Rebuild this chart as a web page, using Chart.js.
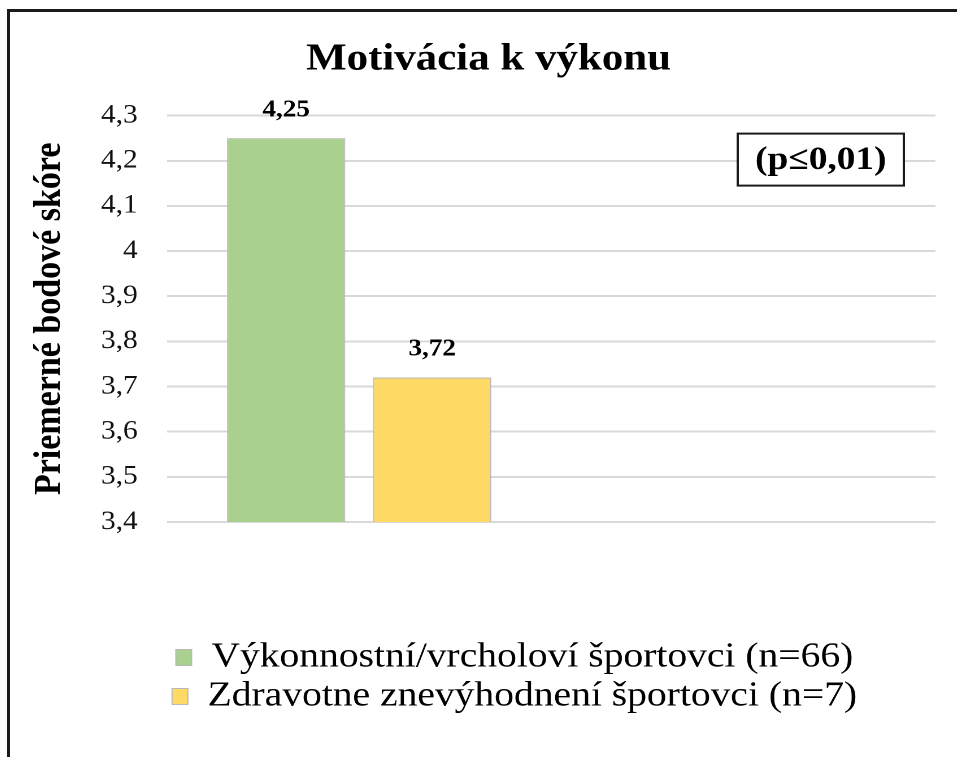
<!DOCTYPE html>
<html>
<head>
<meta charset="utf-8">
<script src="https://cdn.jsdelivr.net/npm/chart.js@4"></script>
<style>
  html, body { margin: 0; padding: 0; background: #fff; overflow: hidden; }
  #frame {
    position: absolute; left: 7px; top: 9px;
    width: 1000px; height: 800px;
    border-left: 3px solid #1a1a1a; border-top: 3px solid #1a1a1a;
  }
  /* the source picture is a little stretched sideways */
  #wrap {
    position: absolute; left: 0; top: 0; width: 838px; height: 745px;
    transform: scaleX(1.13); transform-origin: 0 0;
  }
</style>
</head>
<body>
<div id="frame"><div id="wrap"><canvas id="myChartBar"></canvas></div></div>
<script>
// data
var chartTitle = 'Motivácia k výkonu';
var axisTitle = 'Priemerné bodové skóre';
var categories = ['Motivácia k výkonu', ''];
var seriesNames = ['Výkonnostní/vrcholoví športovci (n=66)', 'Zdravotne znevýhodnení športovci (n=7)'];
var seriesValues = [4.25, 3.72];
var seriesColors = ['#a9d08e', '#fed966'];
var yTicks = [3.4, 3.5, 3.6, 3.7, 3.8, 3.9, 4.0, 4.1, 4.2, 4.3];
var pNote = '(p≤0,01)';

function comma(v) {
  return String(Math.round(v * 100) / 100).replace('.', ',');
}

var serif = 'Liberation Serif';

var valueLabels = {
  id: 'valueLabels',
  afterDatasetsDraw: function (chart) {
    var ctx = chart.ctx;
    ctx.save();
    ctx.font = 'bold 24px "' + serif + '"';
    ctx.fillStyle = '#000';
    ctx.textAlign = 'center';
    ctx.textBaseline = 'middle';
    chart.data.datasets.forEach(function (ds, i) {
      chart.getDatasetMeta(i).data.forEach(function (bar, j) {
        if (ds.data[j] == null) return;
        ctx.fillText(comma(ds.data[j]), bar.x, bar.y - 28);
      });
    });
    ctx.restore();
  }
};

var pBox = {
  id: 'pBox',
  afterDraw: function (chart) {
    var a = chart.chartArea;
    var ctx = chart.ctx;
    var w = 147, h = 52;
    var x = a.right - 28 - w, y = a.top + 18;
    ctx.save();
    ctx.fillStyle = '#fff';
    ctx.fillRect(x, y, w, h);
    ctx.lineWidth = 2;
    ctx.strokeStyle = '#1a1a1a';
    ctx.strokeRect(x, y, w, h);
    ctx.font = 'bold 33px "' + serif + '"';
    ctx.fillStyle = '#000';
    ctx.textAlign = 'center';
    ctx.textBaseline = 'middle';
    ctx.fillText(pNote, x + w / 2, y + h / 2 + 1);
    ctx.restore();
  }
};

var shiftBlocks = {
  id: 'shiftBlocks',
  afterLayout: function (chart) {
    chart.legend.left += 35;
    chart.legend.right += 35;
    chart.titleBlock.left += 12;
    chart.titleBlock.right += 12;
  }
};

var datasets = seriesNames.map(function (name, i) {
  var d = categories.map(function () { return null; });
  d[0] = seriesValues[i];
  return {
    label: name,
    data: d,
    backgroundColor: seriesColors[i],
    borderColor: '#b8b8b8',
    borderWidth: 1
  };
});

new Chart(document.getElementById('myChartBar'), {
  type: 'bar',
  data: { labels: categories, datasets: datasets },
  options: {
    responsive: true,
    maintainAspectRatio: false,
    animation: false,
    devicePixelRatio: 2,
    categoryPercentage: 0.76,
    barPercentage: 0.81,
    layout: { padding: { left: 4, right: 19, top: 0, bottom: 33 } },
    plugins: {
      title: {
        display: true,
        text: chartTitle,
        color: '#000',
        font: { family: serif, size: 38, weight: 'bold' },
        padding: { top: 25, bottom: 33 }
      },
      legend: {
        position: 'bottom',
        labels: {
          color: '#000',
          font: { family: serif, size: 35 },
          boxWidth: 14,
          boxHeight: 16,
          padding: 4
        }
      },
      tooltip: { enabled: false }
    },
    scales: {
      x: {
        grid: { display: false },
        border: { display: false },
        ticks: { display: false },
        afterFit: function (scale) { scale.height = 114; }
      },
      y: {
        min: yTicks[0],
        max: yTicks[yTicks.length - 1],
        afterBuildTicks: function (scale) {
          scale.ticks = yTicks.map(function (v) { return { value: v }; });
        },
        afterFit: function (scale) { scale.width = 135; },
        grid: { color: '#d9d9d9', lineWidth: 2, drawTicks: false },
        border: { display: false },
        ticks: {
          color: '#111',
          padding: 26,
          font: { family: serif, size: 26 },
          callback: function (v) { return comma(v); }
        },
        title: {
          display: true,
          text: axisTitle,
          color: '#000',
          font: { family: serif, size: 34, weight: 'bold' },
          padding: { top: 11, bottom: 10 }
        }
      }
    }
  },
  plugins: [valueLabels, pBox, shiftBlocks]
});
</script>
</body>
</html>
